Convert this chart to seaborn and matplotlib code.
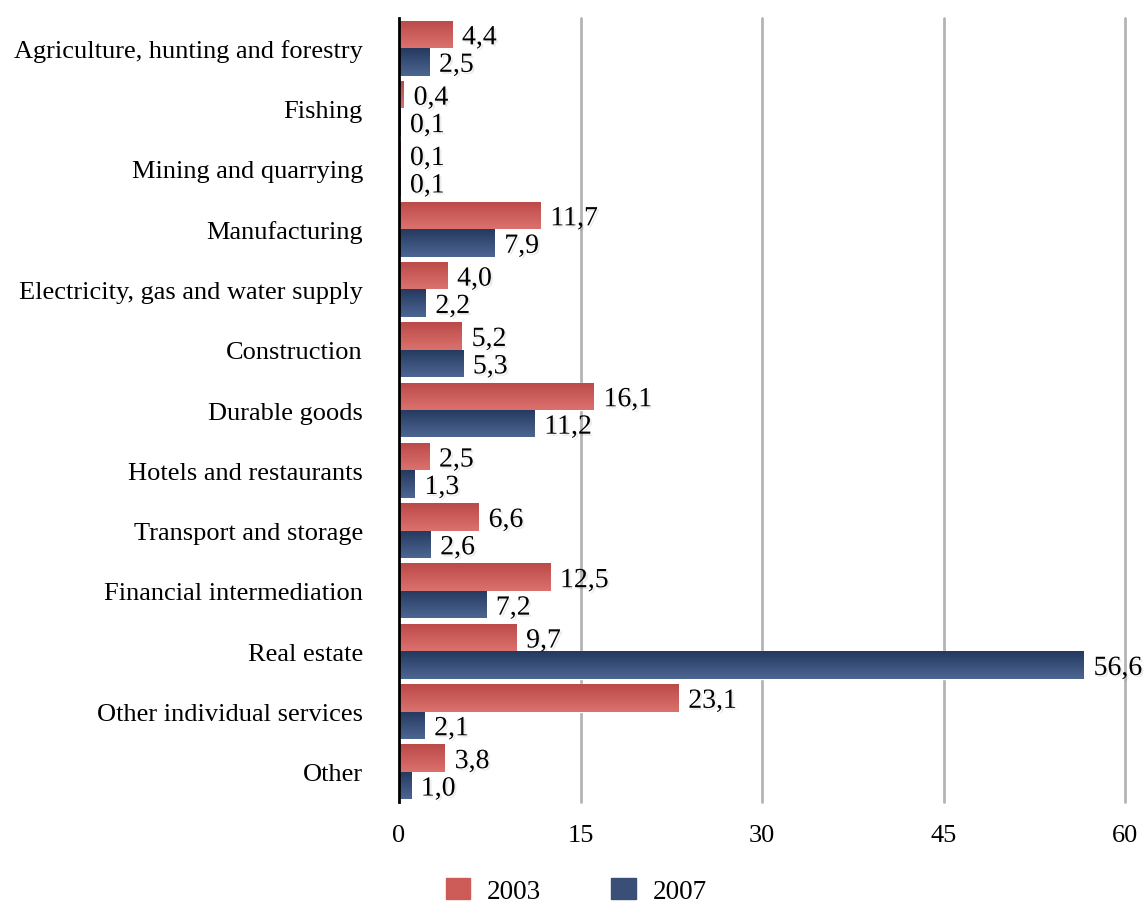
import numpy as np
import pandas as pd
import matplotlib
matplotlib.use("Agg")
import matplotlib.pyplot as plt
import matplotlib.patheffects as pe
from matplotlib.colors import LinearSegmentedColormap
import seaborn as sns

categories = [
    "Agriculture, hunting and forestry", "Fishing", "Mining and quarrying",
    "Manufacturing", "Electricity, gas and water supply", "Construction",
    "Durable goods", "Hotels and restaurants", "Transport and storage",
    "Financial intermediation", "Real estate", "Other individual services", "Other",
]
values_2003 = [4.4, 0.4, 0.1, 11.7, 4.0, 5.2, 16.1, 2.5, 6.6, 12.5, 9.7, 23.1, 3.8]
values_2007 = [2.5, 0.1, 0.1, 7.9, 2.2, 5.3, 11.2, 1.3, 2.6, 7.2, 56.6, 2.1, 1.0]
years = ["2003", "2007"]
x_ticks = [0, 15, 30, 45, 60]

df = pd.DataFrame({
    "sector": categories * 2,
    "year": [years[0]] * len(categories) + [years[1]] * len(categories),
    "value": values_2003 + values_2007,
})

sns.set_theme(style="white")
plt.rcParams["font.family"] = ["Liberation Serif", "DejaVu Serif"]
plt.rcParams["text.color"] = "black"
plt.rcParams["xtick.color"] = "black"
plt.rcParams["ytick.color"] = "black"
plt.rcParams["xtick.labelcolor"] = "black"
plt.rcParams["ytick.labelcolor"] = "black"

palette = {"2003": "#cd5b58", "2007": "#3a4f77"}
gradients = {
    "2003": ("#bb4a48", "#db716d"),
    "2007": ("#25395f", "#4c6692"),
}

fig = plt.figure(figsize=(11.44, 9.03), dpi=100)
ax = fig.add_axes([0.3488, 0.1107, 0.6346, 0.8683])

sns.barplot(data=df, y="sector", x="value", hue="year", order=categories,
            hue_order=years, palette=palette, orient="h", width=0.91,
            saturation=1, legend=False, ax=ax)

ax.set_xlim(0, 60)
ylim = ax.get_ylim()

# vertical gradient fill for each bar, clipped to the bar outline
shadow = [pe.SimplePatchShadow(offset=(1.5, -1.5), shadow_rgbFace="#000000", alpha=0.08), pe.Normal()]
for container, yr in zip(ax.containers, years):
    cmap = LinearSegmentedColormap.from_list(yr, gradients[yr])
    grad = np.linspace(0, 1, 64).reshape(-1, 1)
    for bar, val in zip(container, df.loc[df.year == yr, "value"]):
        x0, y0 = bar.get_x(), bar.get_y()
        w, h = bar.get_width(), bar.get_height()
        im = ax.imshow(grad, cmap=cmap, aspect="auto", origin="upper",
                       extent=(x0, x0 + w, y0 + h, y0), zorder=bar.get_zorder())
        im.set_clip_path(bar)
        ax.annotate(f"{val:.1f}".replace(".", ","), xy=(x0 + w, y0 + h / 2),
                    xytext=(7, -2.5), textcoords="offset points", ha="left",
                    va="center", fontsize=20, color="black", path_effects=shadow)

ax.set_ylim(ylim)
ax.set_xlim(0, 60)

for xv in x_ticks[1:]:
    ax.axvline(xv, color="#b4b4b4", lw=2, zorder=0, clip_on=False)

ax.set_xticks(x_ticks)
ax.set_xticklabels([str(t) for t in x_ticks])
ax.tick_params(axis="x", length=0, pad=16, labelsize=19)
ax.tick_params(axis="y", length=0, pad=26, labelsize=19)
ax.set_xlabel("")
ax.set_ylabel("")

for side in ["top", "right", "bottom"]:
    ax.spines[side].set_visible(False)
ax.spines["left"].set_color("black")
ax.spines["left"].set_linewidth(2)
ax.spines["left"].set_zorder(5)

handles = [plt.Rectangle((0, 0), 1, 1, color=palette[y]) for y in years]
fig.legend(handles, years, loc="center", bbox_to_anchor=(0.5035, 0.0125),
           ncol=2, frameon=False, fontsize=19.5, handlelength=0.92,
           handleheight=0.82, handletextpad=0.6, columnspacing=2.6)

fig.savefig("out.png", dpi=100)
